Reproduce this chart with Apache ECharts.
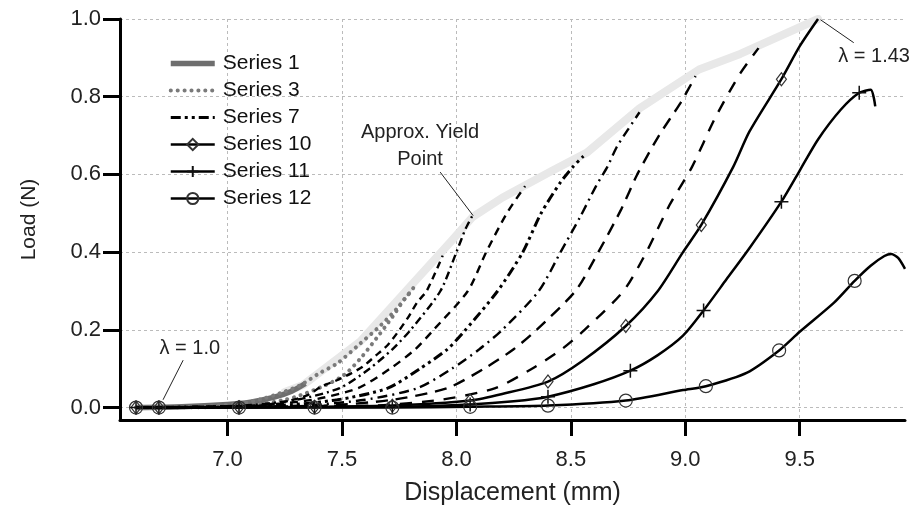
<!DOCTYPE html>
<html>
<head>
<meta charset="utf-8">
<script src="https://cdn.jsdelivr.net/npm/echarts@6/dist/echarts.min.js"></script>
<style>
html, body { margin: 0; padding: 0; background: #fff; }
#chart { width: 914px; height: 511px; }
</style>
</head>
<body>
<div id="chart"></div>
<script>
// axis ticks
const xTicks = [7.0, 7.5, 8.0, 8.5, 9.0, 9.5];
const yTicks = [0.0, 0.2, 0.4, 0.6, 0.8, 1.0];

// light grey yield envelope
const envelope = [[7.25,0.04],[7.33,0.058],[7.58,0.17],[7.78,0.30],[7.98,0.43],[8.07,0.49],[8.2,0.54],[8.42,0.61],[8.57,0.656],[8.80,0.77],[9.06,0.87],[9.24,0.91],[9.58,1.0]];

// load curves, [displacement, load]
const s1 = [[6.6,0],[6.8,0.002],[7.0,0.008],[7.1,0.014],[7.2,0.026],[7.28,0.042],[7.34,0.062]];
const s2 = [[6.6,0],[6.9,0.003],[7.05,0.01],[7.15,0.022],[7.23,0.037],[7.32,0.058],[7.40,0.088],[7.48,0.114],[7.58,0.165],[7.67,0.212],[7.74,0.255],[7.82,0.314]];
const s3 = [[6.6,0],[7.0,0.002],[7.15,0.01],[7.25,0.02],[7.32,0.032],[7.43,0.058],[7.51,0.084],[7.58,0.126],[7.65,0.178],[7.72,0.233],[7.78,0.285],[7.81,0.302]];
const s4 = [[6.6,0],[7.1,0.003],[7.25,0.015],[7.35,0.032],[7.41,0.054],[7.48,0.071],[7.54,0.088],[7.59,0.105],[7.65,0.135],[7.70,0.161],[7.75,0.199],[7.79,0.233],[7.83,0.272],[7.87,0.30],[7.94,0.391]];
const s5 = [[6.6,0],[7.06,0.005],[7.30,0.02],[7.49,0.05],[7.62,0.1],[7.72,0.15],[7.80,0.2],[7.93,0.3],[8.0,0.4],[8.04,0.46],[8.07,0.494]];
const s6 = [[6.6,0],[7.11,0.005],[7.37,0.02],[7.57,0.05],[7.71,0.1],[7.82,0.15],[7.90,0.2],[8.05,0.3],[8.13,0.4],[8.22,0.5],[8.30,0.57]];
const s7 = [[6.6,0],[7.21,0.005],[7.48,0.02],[7.70,0.05],[7.84,0.1],[7.96,0.15],[8.04,0.2],[8.18,0.3],[8.29,0.4],[8.37,0.5],[8.455,0.58],[8.51,0.62],[8.555,0.647]];
const s8 = [[6.6,0],[7.32,0.005],[7.60,0.02],[7.83,0.05],[7.98,0.1],[8.10,0.15],[8.20,0.2],[8.36,0.3],[8.455,0.4],[8.54,0.49],[8.61,0.57],[8.66,0.62],[8.70,0.67],[8.75,0.716],[8.80,0.76]];
const s9 = [[6.6,0],[7.42,0.005],[7.72,0.02],[7.96,0.05],[8.12,0.1],[8.25,0.15],[8.35,0.2],[8.52,0.3],[8.62,0.4],[8.72,0.51],[8.79,0.6],[8.885,0.7],[8.98,0.785],[9.045,0.853]];
const s9b = [[6.6,0],[7.63,0.005],[7.93,0.02],[8.17,0.05],[8.33,0.1],[8.46,0.15],[8.56,0.2],[8.73,0.3],[8.83,0.4],[8.93,0.52],[9.03,0.62],[9.13,0.745],[9.24,0.86],[9.32,0.925]];
const s10 = [[6.6,0],[6.7,0],[7.05,0.001],[7.38,0.002],[7.72,0.005],[8.06,0.018],[8.2,0.035],[8.4,0.067],[8.55,0.12],[8.74,0.21],[8.88,0.30],[8.99,0.40],[9.07,0.47],[9.21,0.62],[9.28,0.71],[9.42,0.845],[9.5,0.93],[9.58,1.0]];
const s11 = [[6.6,0],[6.7,0],[7.05,0],[7.38,0.001],[7.72,0.002],[8.06,0.008],[8.25,0.016],[8.4,0.028],[8.6,0.06],[8.76,0.095],[8.88,0.135],[8.99,0.185],[9.08,0.25],[9.18,0.33],[9.28,0.41],[9.42,0.53],[9.5,0.61],[9.58,0.69],[9.68,0.767],[9.76,0.81],[9.81,0.818],[9.83,0.775]];
const s12 = [[6.6,0],[6.7,0],[7.05,0],[7.38,0],[7.72,0],[8.06,0.002],[8.4,0.005],[8.74,0.018],[8.99,0.045],[9.09,0.055],[9.27,0.09],[9.41,0.147],[9.5,0.195],[9.65,0.27],[9.74,0.326],[9.81,0.365],[9.87,0.39],[9.9,0.395],[9.93,0.385],[9.96,0.357]];

// which points of series 10-12 carry a marker
const s10Marks = [0,1,2,3,4,5,7,9,12,15];
const s11Marks = [0,1,2,3,4,5,7,9,12,15,19];
const s12Marks = [0,1,2,3,4,5,6,7,9,11,14];

const legendNames = ['Series 1','Series 3','Series 7','Series 10','Series 11','Series 12'];
const plainLegend = ['Series 1','Series 3','Series 7'];

// annotations
const notes = [
    {name: 'Approx. Yield', at: [7.841, 0.709]},
    {name: 'Point', at: [7.841, 0.639]},
    {name: 'λ = 1.0', at: [6.835, 0.152]},
    {name: 'λ = 1.43', at: [9.825, 0.903]}
];
const arrows = [
    [[7.929, 0.606], [8.073, 0.494]],
    [[6.806, 0.122], [6.718, 0.02]],
    [[9.736, 0.939], [9.591, 0.998]]
];

const FONT = 'Liberation Sans, Arial, sans-serif';
const chart = echarts.init(document.getElementById('chart'));

function markedData(points, marks) {
    return points.map((p, i) => marks.includes(i) ? {value: p} : {value: p, symbol: 'none'});
}

function dashLine(name, data, dash, width) {
    return {
        name: name,
        type: 'line',
        data: data,
        symbol: 'none',
        smooth: 0.25,
        z: 3,
        lineStyle: {color: '#000', width: width || 2.4, type: dash, cap: 'butt'},
        itemStyle: {color: '#000'}
    };
}

const plusPath = 'path://M0,5L10,5M5,0L5,10';

let option = {
    animation: false,
    textStyle: {fontFamily: FONT},
    grid: {left: 120, right: 9, top: 19, bottom: 89},
    legend: {
        data: legendNames.map(n => plainLegend.includes(n)
            ? {name: n, itemStyle: {color: 'rgba(0,0,0,0)', borderColor: 'rgba(0,0,0,0)', borderWidth: 0}}
            : {name: n}),
        orient: 'vertical',
        left: 168,
        top: 53,
        padding: 0,
        itemWidth: 44,
        itemHeight: 14,
        itemGap: 6,
        lineStyle: {width: 'inherit'},
        textStyle: {fontSize: 21, color: '#111', fontFamily: FONT, padding: [0, 0, 0, 3]}
    },
    xAxis: {
        type: 'value',
        min: 6.53,
        max: 9.96,
        name: 'Displacement (mm)',
        nameLocation: 'middle',
        nameGap: 61,
        nameTextStyle: {fontSize: 25, color: '#222', fontFamily: FONT},
        axisLine: {onZero: false, lineStyle: {color: '#000', width: 3}},
        axisTick: {show: true, length: 16, customValues: xTicks, lineStyle: {color: '#000', width: 3}},
        axisLabel: {customValues: xTicks, formatter: v => v.toFixed(1), fontSize: 22, color: '#222', margin: 29, fontFamily: FONT},
        splitLine: {show: true, lineStyle: {color: '#bbb', width: 1, type: [3, 3]}}
    },
    yAxis: {
        type: 'value',
        min: -0.032,
        max: 1.0,
        name: 'Load (N)',
        nameLocation: 'middle',
        nameGap: 80,
        nameTextStyle: {fontSize: 21, color: '#222', fontFamily: FONT},
        axisLine: {onZero: false, lineStyle: {color: '#000', width: 3}},
        axisTick: {show: true, length: 17, customValues: yTicks, lineStyle: {color: '#000', width: 3}},
        axisLabel: {customValues: yTicks, formatter: v => v.toFixed(1), fontSize: 22, color: '#222', margin: 19, fontFamily: FONT},
        splitLine: {show: true, lineStyle: {color: '#bbb', width: 1, type: [3, 3]}}
    },
    series: [
        {
            name: 'envelope',
            type: 'line',
            data: envelope,
            symbol: 'none',
            z: 1,
            lineStyle: {color: '#e8e8e8', width: 8, cap: 'round', join: 'round'},
            markLine: {
                silent: true,
                symbol: ['none', 'arrow'],
                symbolSize: [0, 10],
                lineStyle: {color: '#222', width: 1, type: 'solid'},
                label: {show: false},
                data: arrows.map(a => [{coord: a[0]}, {coord: a[1]}])
            },
            markPoint: {
                silent: true,
                symbol: 'circle',
                symbolSize: 0,
                label: {show: true, position: 'inside', formatter: '{b}', fontSize: 20, color: '#222', fontFamily: FONT},
                data: notes.map(n => ({name: n.name, coord: n.at}))
            }
        },
        {
            name: 'Series 1',
            type: 'line',
            data: s1,
            symbol: 'none',
            smooth: 0.25,
            z: 2,
            lineStyle: {color: '#6e6e6e', width: 5.5},
            itemStyle: {color: '#6e6e6e'}
        },
        {
            name: 'Series 2',
            type: 'line',
            data: s2,
            symbol: 'none',
            smooth: 0.25,
            z: 2,
            lineStyle: {color: '#7a7a7a', width: 4, type: [0.1, 6.8], cap: 'round'},
            itemStyle: {color: '#7a7a7a'}
        },
        {
            name: 'Series 3',
            type: 'line',
            data: s3,
            symbol: 'none',
            smooth: 0.25,
            z: 2,
            lineStyle: {color: '#7a7a7a', width: 4, type: [0.1, 6.8], cap: 'round'},
            itemStyle: {color: '#7a7a7a'}
        },
        dashLine('Series 4', s4, [7, 5]),
        dashLine('Series 5', s5, [8, 4, 2, 4]),
        dashLine('Series 6', s6, [8, 6]),
        dashLine('Series 7', s7, [10, 4, 3, 4, 3, 4], 3),
        dashLine('Series 8', s8, [10, 5, 2, 5]),
        dashLine('Series 9', s9, [12, 8]),
        dashLine('Series 9b', s9b, [12, 10]),
        {
            name: 'Series 10',
            type: 'line',
            data: markedData(s10, s10Marks),
            smooth: 0.25,
            symbol: 'diamond',
            symbolSize: [10, 13],
            showSymbol: true,
            z: 4,
            lineStyle: {color: '#000', width: 2.5},
            itemStyle: {color: 'rgba(255,255,255,0)', borderColor: '#333', borderWidth: 1.2}
        },
        {
            name: 'Series 11',
            type: 'line',
            data: markedData(s11, s11Marks),
            smooth: 0.25,
            symbol: plusPath,
            symbolSize: 14,
            showSymbol: true,
            z: 4,
            lineStyle: {color: '#000', width: 2.5},
            itemStyle: {color: 'rgba(0,0,0,0)', borderColor: '#111', borderWidth: 1.5}
        },
        {
            name: 'Series 12',
            type: 'line',
            data: markedData(s12, s12Marks),
            smooth: 0.25,
            symbol: 'circle',
            symbolSize: 13,
            showSymbol: true,
            z: 4,
            lineStyle: {color: '#000', width: 2.5},
            itemStyle: {color: 'rgba(255,255,255,0)', borderColor: '#333', borderWidth: 1.2}
        }
    ]
};

chart.setOption(option);
</script>
</body>
</html>
